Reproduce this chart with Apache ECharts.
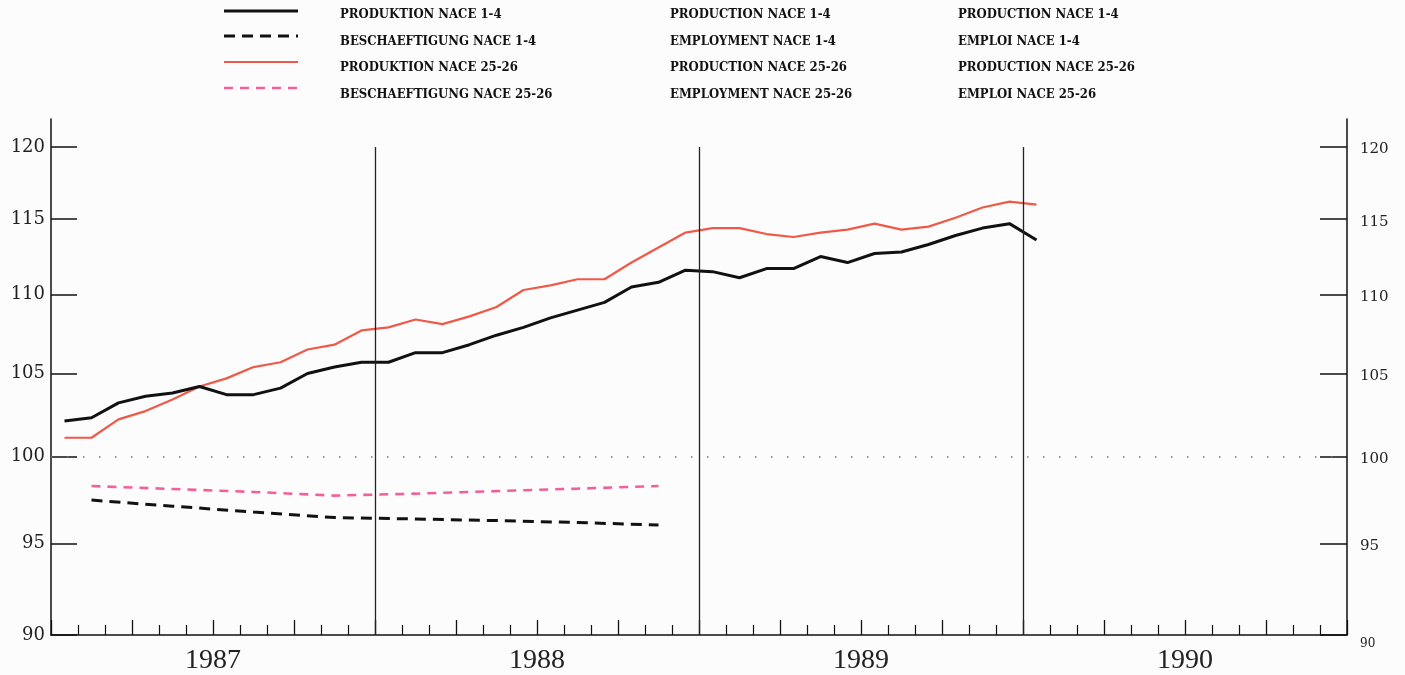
<!DOCTYPE html>
<html>
<head>
<meta charset="utf-8">
<script src="https://cdn.jsdelivr.net/npm/echarts@6/dist/echarts.min.js"></script>
<style>
  html, body { margin: 0; padding: 0; background: #fcfcfc; }
  #chart { width: 1405px; height: 675px; }
</style>
</head>
<body>
<div id="chart"></div>
<script>
// ---- data ----
// Monthly production indices, Jan 1987 .. Jan 1990 (month index 0..36)
const prodNace1_4 = [102.1, 102.3, 103.2, 103.6, 103.8, 104.2, 103.7, 103.7, 104.1, 105.0, 105.4, 105.7,
                     105.7, 106.3, 106.3, 106.8, 107.4, 107.9, 108.5, 109.0, 109.5, 110.5, 110.8, 111.6,
                     111.5, 111.1, 111.7, 111.7, 112.5, 112.1, 112.7, 112.8, 113.3, 113.9, 114.4, 114.7,
                     113.6];
const prodNace25_26 = [101.1, 101.1, 102.2, 102.7, 103.4, 104.2, 104.7, 105.4, 105.7, 106.5, 106.8, 107.7,
                       107.9, 108.4, 108.1, 108.6, 109.2, 110.3, 110.6, 111.0, 111.0, 112.1, 113.1, 114.1,
                       114.4, 114.4, 114.0, 113.8, 114.1, 114.3, 114.7, 114.3, 114.5, 115.1, 115.8, 116.2,
                       116.0];
// Quarterly employment indices, Q1 1987 .. Q4 1988 (quarter index 0..7)
const empNace1_4 = [97.45, 97.1, 96.77, 96.45, 96.37, 96.28, 96.17, 96.03];
const empNace25_26 = [98.26, 98.09, 97.92, 97.71, 97.82, 97.97, 98.11, 98.26];

const yearLabels = ['1987', '1988', '1989', '1990'];
const yTickValues = [90, 95, 100, 105, 110, 115, 120];

const legendDE = ['PRODUKTION NACE 1-4', 'BESCHAEFTIGUNG NACE 1-4', 'PRODUKTION NACE 25-26', 'BESCHAEFTIGUNG NACE 25-26'];
const legendEN = ['PRODUCTION NACE 1-4', 'EMPLOYMENT NACE 1-4', 'PRODUCTION NACE 25-26', 'EMPLOYMENT NACE 25-26'];
const legendFR = ['PRODUCTION NACE 1-4', 'EMPLOI NACE 1-4', 'PRODUCTION NACE 25-26', 'EMPLOI NACE 25-26'];

// ---- build ----
const monthlyPoints = arr => arr.map((v, i) => [i + 0.5, v]);      // centre of month i
const quarterlyPoints = arr => arr.map((v, q) => [q * 3 + 1.5, v]); // centre of quarter q
const yearCenters = yearLabels.map((y, i) => i * 12 + 6);
const yearBounds = [12, 24, 36];

const BLACK = '#111111';
const RED = '#ef5a48';
const PINK = '#f2609c';
const serif = "'DejaVu Serif', 'Liberation Serif', serif";
const legendFont = "'DejaVu Serif Condensed', 'Liberation Serif', serif";

const lineStyles = [
  { color: BLACK, width: 3, type: 'solid' },
  { color: BLACK, width: 3, type: [11, 7] },
  { color: RED, width: 2.2, type: 'solid' },
  { color: PINK, width: 2.6, type: [9, 7] }
];

const chart = echarts.init(document.getElementById('chart'), null, { renderer: 'canvas' });

const legendGraphics = [];
const rowLineY = [11, 36, 62, 88];
const rowTextY = [15, 42, 68, 95];
lineStyles.forEach((ls, i) => {
  legendGraphics.push({
    type: 'line', silent: true,
    shape: { x1: 224, y1: rowLineY[i], x2: 298, y2: rowLineY[i] },
    style: { stroke: ls.color, lineWidth: ls.width, lineDash: ls.type === 'solid' ? null : ls.type }
  });
  [[legendDE, 340], [legendEN, 670], [legendFR, 958]].forEach(([arr, x]) => {
    legendGraphics.push({
      type: 'text', silent: true, x: x, y: rowTextY[i],
      style: { text: arr[i], fill: '#111', font: "bold 13px " + legendFont, textVerticalAlign: 'middle' }
    });
  });
});

const axisLineStyle = { color: BLACK, width: 1.5 };

const option = {
  backgroundColor: '#fcfcfc',
  animation: false,
  grid: { left: 51, right: 58, top: 119, bottom: 40, containLabel: false },
  xAxis: {
    type: 'value', min: 0, max: 48, interval: 3,
    axisLine: { show: true, lineStyle: axisLineStyle },
    axisTick: { show: true, inside: true, length: 15, lineStyle: { color: BLACK, width: 1.3 } },
    minorTick: { show: true, splitNumber: 3, length: 10, lineStyle: { color: BLACK, width: 1.2 } },
    splitLine: { show: false },
    axisLabel: {
      customValues: yearCenters,
      formatter: v => yearLabels[Math.round((v - 6) / 12)],
      fontFamily: "'Liberation Serif', serif", fontSize: 28, color: '#222', margin: 12
    }
  },
  yAxis: [
    {
      type: 'log', logBase: 10, min: 90, max: 122, position: 'left',
      axisLine: { show: true, lineStyle: axisLineStyle },
      axisTick: { show: true, inside: true, length: 26, customValues: yTickValues, lineStyle: { color: BLACK, width: 1.5 } },
      minorTick: { show: false },
      splitLine: { show: false },
      axisLabel: { customValues: yTickValues, fontFamily: serif, fontSize: 18, color: '#222', margin: 6, padding: [5, 0, 0, 0] }
    },
    {
      type: 'log', logBase: 10, min: 90, max: 122, position: 'right',
      axisLine: { show: true, lineStyle: axisLineStyle },
      axisTick: { show: true, inside: true, length: 27, customValues: yTickValues, lineStyle: { color: BLACK, width: 1.5 } },
      minorTick: { show: false },
      splitLine: { show: false },
      axisLabel: {
        customValues: yTickValues, fontFamily: serif, fontSize: 15, color: '#222', margin: 13, padding: [5, 0, 0, 0],
        formatter: v => (Math.round(v) === 90 ? '{s|90}' : String(Math.round(v))),
        rich: { s: { fontSize: 12, fontFamily: serif, color: '#222', padding: [12, 0, 0, 0] } }
      }
    }
  ],
  graphic: legendGraphics,
  series: [
    {
      name: legendDE[0], type: 'line', data: monthlyPoints(prodNace1_4),
      symbol: 'none', lineStyle: lineStyles[0], z: 4,
      markLine: {
        silent: true, symbol: ['none', 'none'], animation: false,
        label: { show: false },
        data: [
          ...yearBounds.map(x => [
            { coord: [x, 90], lineStyle: { color: '#222', width: 1.3, type: 'solid' } },
            { coord: [x, 120] }
          ]),
          [
            { coord: [0, 100], lineStyle: { color: '#777', width: 1.6, type: [1.5, 14.5] } },
            { coord: [48, 100] }
          ]
        ]
      }
    },
    { name: legendDE[1], type: 'line', data: quarterlyPoints(empNace1_4), symbol: 'none', lineStyle: lineStyles[1], z: 3 },
    { name: legendDE[2], type: 'line', data: monthlyPoints(prodNace25_26), symbol: 'none', lineStyle: lineStyles[2], z: 3 },
    { name: legendDE[3], type: 'line', data: quarterlyPoints(empNace25_26), symbol: 'none', lineStyle: lineStyles[3], z: 3 }
  ]
};

chart.setOption(option);
</script>
</body>
</html>
